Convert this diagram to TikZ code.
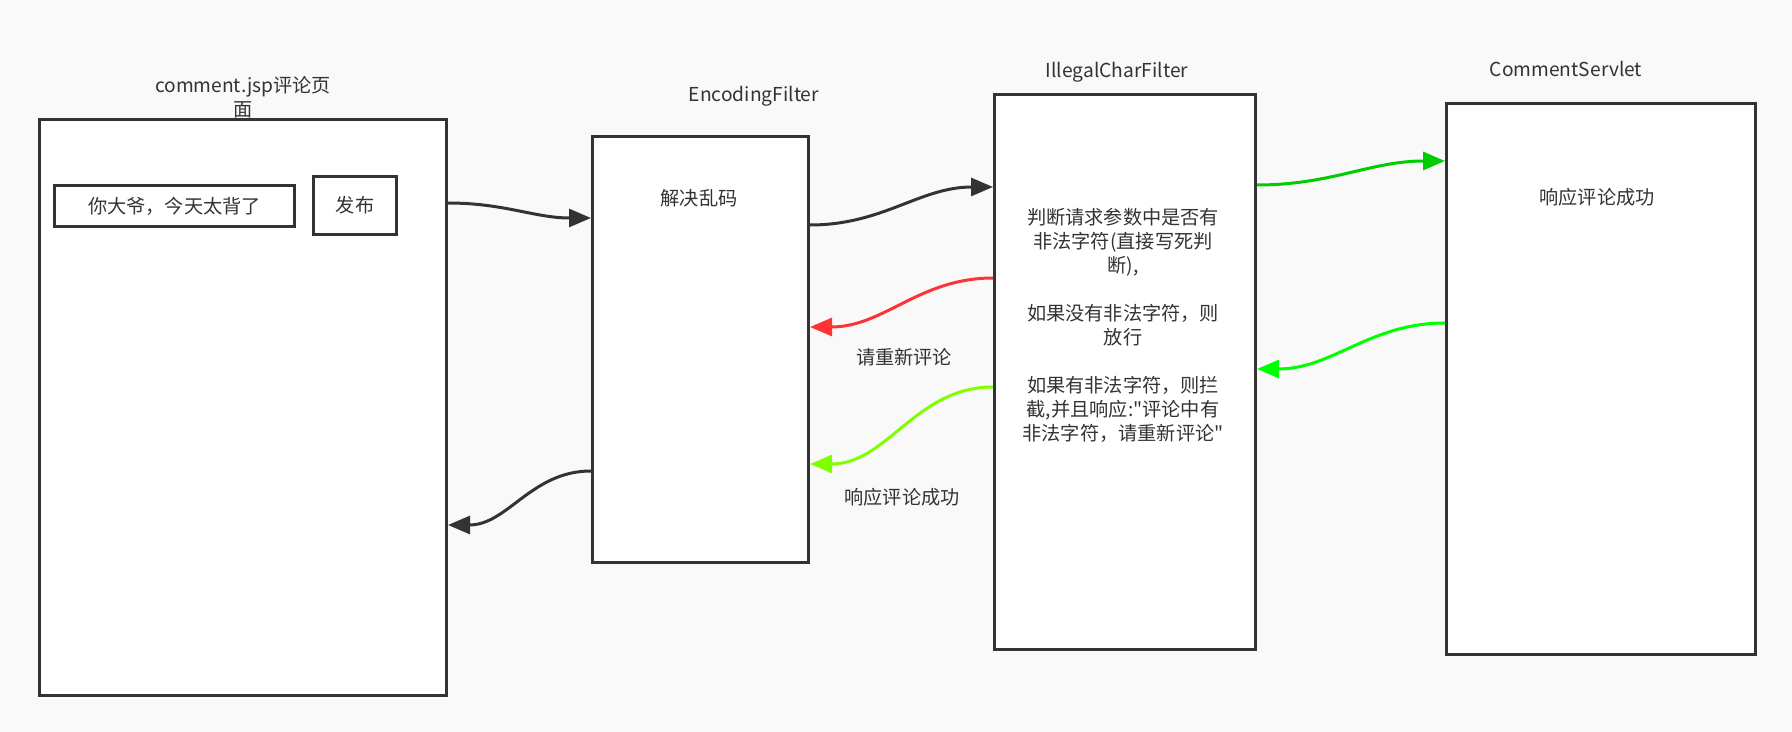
\documentclass[tikz,border=0pt]{standalone}
\usepackage{fontspec}
\setmainfont{Noto Sans CJK SC}[Ligatures=TeXOff]
\usepackage{tikz}
\usetikzlibrary{arrows.meta,calc}
\definecolor{bgcol}{HTML}{F9F9F9}
\definecolor{ink}{HTML}{333333}
\definecolor{okgreen}{HTML}{00CC00}
\definecolor{backgreen}{HTML}{00FF00}
\definecolor{failred}{HTML}{FF3333}
\definecolor{limegreen}{HTML}{80FF00}

\begin{document}
\begin{tikzpicture}[x=0.5pt,y=-0.5pt]
\tikzset{box/.style={draw=ink,line width=1.5pt,fill=white,anchor=north west,inner sep=0pt}}
\tikzset{lbl/.style={text=ink,font=\fontsize{9.6}{12}\selectfont,align=center}}
\tikzset{flow/.style={line width=1.5pt,-{Triangle[length=11pt,width=9pt]}}}
\useasboundingbox[fill=bgcol] (0,0) rectangle (1792,732);
\node[box,minimum width=203.5pt,minimum height=288pt] (page) at (38,118) {};
\node[box,minimum width=108pt,minimum height=213pt] (enc) at (591,135) {};
\node[box,minimum width=130.5pt,minimum height=277.5pt] (ill) at (993,93) {};
\node[box,minimum width=154.5pt,minimum height=275.5pt] (srv) at (1445,102) {};
\node[box,minimum width=120pt,minimum height=20.5pt,lbl,anchor=north west] (input) at (53,184) {你大爷，今天太背了};
\node[box,minimum width=41.5pt,minimum height=29pt,lbl,anchor=north west] (send) at (312,175) {发布};
\node[lbl] (pagetitle) at (243,97) {comment.jsp评论页\\面};
\node[lbl] (enctitle) at (754,96) {EncodingFilter};
\node[lbl] (illtitle) at (1117,72) {IllegalCharFilter};
\node[lbl] (srvtitle) at (1566,69) {CommentServlet};
\node[lbl] (enctext) at (699,198) {解决乱码};
\node[lbl] (srvtext) at (1597,197) {响应评论成功};
\node[lbl] (illtext) at (1123,325) {判断请求参数中是否有\\非法字符(直接写死判\\断),\\[12pt]如果没有非法字符，则\\放行\\[12pt]如果有非法字符，则拦\\截,并且响应:"评论中有\\非法字符，请重新评论"};
\node[lbl] (retry) at (904,357) {请重新评论};
\node[lbl] (success) at (902,497) {响应评论成功};
\draw[flow,ink] ($(page.north east)+(0,85)$) to[out=0,in=180] ($(enc.north west)+(0,83)$);
\draw[flow,ink] ($(enc.north east)+(0,90)$) to[out=0,in=180] ($(ill.north west)+(0,94)$);
\draw[flow,okgreen] ($(ill.north east)+(0,92)$) to[out=0,in=180] ($(srv.north west)+(0,59)$);
\draw[flow,backgreen] ($(srv.north west)+(0,221)$) to[out=180,in=0] ($(ill.north east)+(0,276)$);
\draw[flow,failred] ($(ill.north west)+(0,185)$) to[out=180,in=0] ($(enc.north east)+(0,192)$);
\draw[flow,limegreen] ($(ill.north west)+(0,294)$) to[out=180,in=0] ($(enc.north east)+(0,329)$);
\draw[flow,ink] ($(enc.north west)+(0,336)$) to[out=180,in=0] ($(page.north east)+(0,407)$);
\end{tikzpicture}
\end{document}
